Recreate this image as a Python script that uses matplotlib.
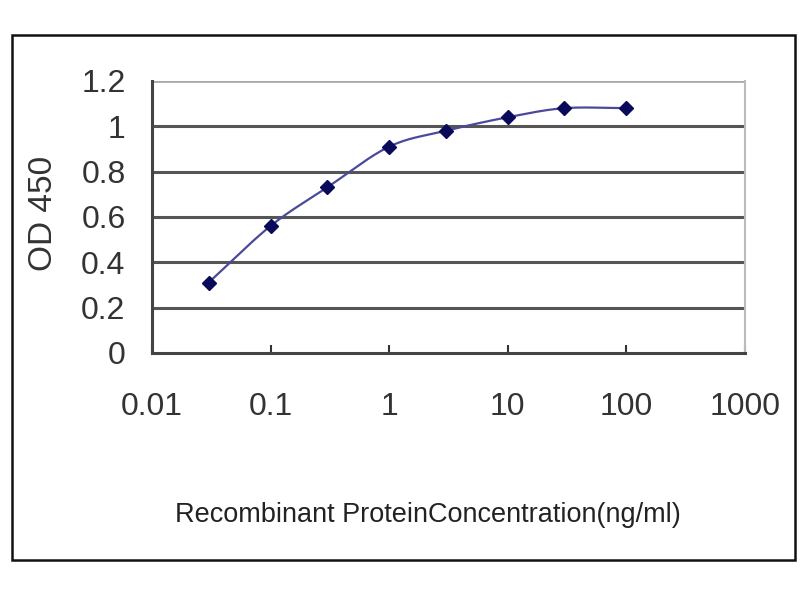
import numpy as np
import matplotlib
matplotlib.use("Agg")
import matplotlib.pyplot as plt
from matplotlib.patches import Rectangle

# concentration (ng/ml) and OD 450 readings
conc = [0.03, 0.1, 0.3, 1, 3, 10, 30, 100]
od450 = [0.31, 0.56, 0.73, 0.91, 0.98, 1.04, 1.08, 1.08]
xticks = [0.01, 0.1, 1, 10, 100, 1000]
xtick_labels = ["0.01", "0.1", "1", "10", "100", "1000"]
yticks = [0, 0.2, 0.4, 0.6, 0.8, 1.0, 1.2]
ytick_labels = ["0", "0.2", "0.4", "0.6", "0.8", "1", "1.2"]


def smooth(xs, ys, n=30):
    # Catmull-Rom curve through the points (log x), like Excel's smoothed line
    lx = np.log10(xs)
    ys = np.asarray(ys, float)
    px = np.concatenate([[2 * lx[0] - lx[1]], lx, [2 * lx[-1] - lx[-2]]])
    py = np.concatenate([[2 * ys[0] - ys[1]], ys, [2 * ys[-1] - ys[-2]]])
    outx, outy = [], []
    t = np.linspace(0, 1, n)
    for i in range(1, len(px) - 2):
        for p, out in ((px, outx), (py, outy)):
            p0, p1, p2, p3 = p[i - 1], p[i], p[i + 1], p[i + 2]
            out.extend(0.5 * (2 * p1 + (-p0 + p2) * t
                              + (2 * p0 - 5 * p1 + 4 * p2 - p3) * t ** 2
                              + (-p0 + 3 * p1 - 3 * p2 + p3) * t ** 3))
    return 10 ** np.array(outx), np.array(outy)


plt.rcParams["font.family"] = ["Liberation Sans", "DejaVu Sans"]

fig = plt.figure(figsize=(8, 6), dpi=100)
fig.patches.append(Rectangle((0.015, 0.067), 0.979, 0.875, transform=fig.transFigure,
                             fill=False, edgecolor="#111111", linewidth=1.8))

ax = fig.add_axes([0.19, 0.412, 0.741, 0.453])
ax.set_xscale("log")
ax.set_xlim(0.01, 1000)
ax.set_ylim(0, 1.2)

for y in yticks[1:-1]:
    ax.axhline(y, color="#555555", linewidth=2.2, zorder=1)
ax.axhline(1.2, color="#aaaaaa", linewidth=2, zorder=1)

sx, sy = smooth(conc, od450)
ax.plot(sx, sy, color="#4a4a9a", linewidth=1.6, zorder=3)
ax.plot(conc, od450, linestyle="none", marker="D", markersize=7,
        color="#0a0a5a", zorder=4)

ax.set_xticks(xticks)
ax.set_xticklabels(xtick_labels)
ax.xaxis.set_minor_locator(matplotlib.ticker.NullLocator())
ax.set_yticks(yticks)
ax.set_yticklabels(ytick_labels)
ax.tick_params(axis="x", direction="in", length=6, width=1.5, color="#333333",
               pad=28, labelsize=23, labelcolor="#333333")
ax.tick_params(axis="y", length=0, pad=19, labelsize=23, labelcolor="#333333")

ax.spines["left"].set_color("#444444")
ax.spines["left"].set_linewidth(2.2)
ax.spines["bottom"].set_color("#444444")
ax.spines["bottom"].set_linewidth(2.2)
ax.spines["top"].set_visible(False)
ax.spines["right"].set_color("#bbbbbb")
ax.spines["right"].set_linewidth(1.5)

fig.text(0.054, 0.645, "OD 450", rotation=90, ha="center", va="center",
         fontsize=24, color="#333333")
fig.text(0.535, 0.142, "Recombinant ProteinConcentration(ng/ml)", ha="center",
         va="center", fontsize=19.5, color="#222222")

fig.savefig("out.png", dpi=100)
